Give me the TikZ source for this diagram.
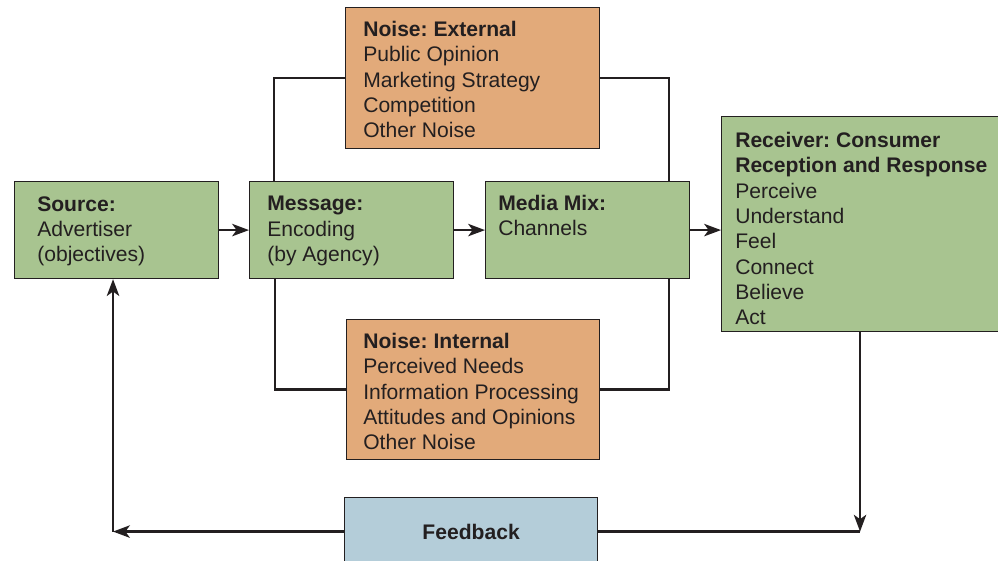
\documentclass[tikz,border=0pt]{standalone}
\usepackage{fontspec}
\setsansfont{Liberation Sans}
\usetikzlibrary{arrows.meta}
\definecolor{boxgreen}{RGB}{168,196,144}
\definecolor{boxorange}{RGB}{226,170,122}
\definecolor{boxblue}{RGB}{180,205,217}
\definecolor{inkgray}{RGB}{35,31,32}
\frenchspacing

\begin{document}
\begin{tikzpicture}[x=0.025cm, y=-0.025cm, font=\sffamily\fontsize{15}{18}\selectfont,
    block/.style={rectangle, draw=inkgray, line width=0.8pt, anchor=north west, inner sep=0pt},
    boxtext/.style={anchor=north west, align=left, inner sep=0pt, text=inkgray},
    link/.style={draw=inkgray, line width=1.6pt},
    arr/.style={link, -{Stealth[length=4.2mm, width=3.1mm, inset=1.1mm]}}]
    \clip (0,0) rectangle (998,560);
    \node[block, fill=boxgreen, minimum width=5.1cm, minimum height=2.425cm] (src) at (14,181) {};
    \node[boxtext] (srctxt) at (37,196) {\textbf{Source:}\\Advertiser\\(objectives)};
    \node[block, fill=boxgreen, minimum width=5.1cm, minimum height=2.425cm] (msg) at (249,181) {};
    \node[boxtext] (msgtxt) at (267,196) {\textbf{Message:}\\Encoding\\(by Agency)};
    \node[block, fill=boxgreen, minimum width=5.1cm, minimum height=2.425cm] (mix) at (485,181) {};
    \node[boxtext] (mixtxt) at (498,195) {\textbf{Media Mix:}\\Channels};
    \node[block, fill=boxgreen, minimum width=7.725cm, minimum height=5.375cm] (rcv) at (721,116) {};
    \node[boxtext] (rcvtxt) at (735,132) {\textbf{Receiver: Consumer}\\\textbf{Reception and Response}\\Perceive\\Understand\\Feel\\Connect\\Believe\\Act};
    \node[block, fill=boxorange, minimum width=6.35cm, minimum height=3.525cm] (ext) at (345,7) {};
    \node[boxtext] (exttxt) at (363,21) {\textbf{Noise: External}\\Public Opinion\\Marketing Strategy\\Competition\\Other Noise};
    \node[block, fill=boxorange, minimum width=6.325cm, minimum height=3.5cm] (int) at (346,319) {};
    \node[boxtext] (inttxt) at (363,333) {\textbf{Noise: Internal}\\Perceived Needs\\Information Processing\\Attitudes and Opinions\\Other Noise};
    \node[block, fill=boxblue, minimum width=6.325cm, minimum height=1.7cm] (fb) at (344,497) {};
    \node[text=inkgray] (fbtxt) at (fb.center) {\textbf{Feedback}};
    \draw[arr] (src) -- (msg);
    \draw[arr] (msg) -- (mix);
    \draw[arr] (mix.east) -- (mix.east -| rcv.west);
    \draw[link] ([xshift=0.625cm]msg.north west) |- (ext.west);
    \draw[link] (ext.east) -| ([xshift=-0.525cm]mix.north east);
    \draw[link] ([xshift=0.65cm]msg.south west) |- (int.west);
    \draw[link] (int.east) -| ([xshift=-0.525cm]mix.south east);
    \coordinate (rcvdrop) at ([xshift=3.475cm]rcv.south west);
    \coordinate (srcrise) at ([xshift=2.475cm]src.south west);
    \draw[link] (fb.east) -- (fb.east -| rcvdrop);
    \draw[arr] (rcvdrop) -- (rcvdrop |- fb.east);
    \draw[arr] (fb.west) -- (fb.west -| srcrise);
    \draw[arr] (srcrise |- fb.west) -- (srcrise);
\end{tikzpicture}
\end{document}
